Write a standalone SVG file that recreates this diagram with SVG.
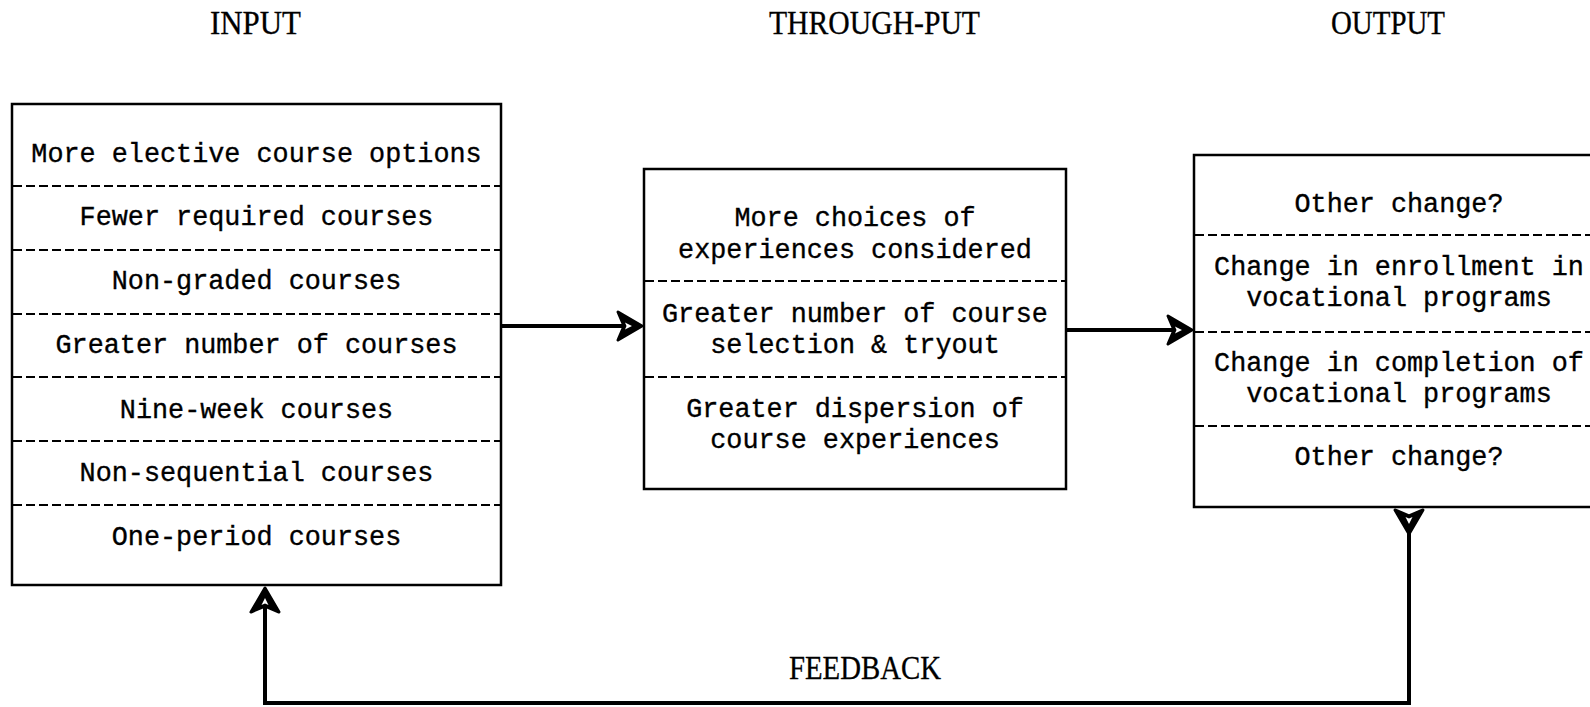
<svg xmlns="http://www.w3.org/2000/svg" width="1590" height="707" viewBox="0 0 1590 707">
<style>
.box{fill:#fff;stroke:#000;stroke-width:2.5}
.dash{stroke:#000;stroke-width:2.2;stroke-dasharray:9,4}
.t{font-family:"Liberation Mono","Courier New",monospace;font-size:26.8px;fill:#000;stroke:#000;stroke-width:0.35;text-anchor:middle}
.h{font-family:"Liberation Serif","Times New Roman",serif;font-size:33px;fill:#000;stroke:#000;stroke-width:0.3}
.conn{fill:none;stroke:#000;stroke-width:4;stroke-linejoin:miter}
.ahO{fill:#000;stroke:#000;stroke-width:3;stroke-linejoin:round}
.ahI{fill:#fff}
</style>
<defs>
<g id="head">
<path class="ahO" d="M0,0 L-24,-14 L-18,0 L-24,14 Z"/>
<path class="ahI" d="M-10,0 L-17,-3.5 L-15.5,0 L-17,3.5 Z"/>
</g>
</defs>
<rect width="1590" height="707" fill="#fff"/>

<g id="headers">
<text class="h" x="210" y="34" textLength="91" lengthAdjust="spacingAndGlyphs">INPUT</text>
<text class="h" x="769" y="34" textLength="211" lengthAdjust="spacingAndGlyphs">THROUGH-PUT</text>
<text class="h" x="1331" y="34" textLength="114" lengthAdjust="spacingAndGlyphs">OUTPUT</text>
</g>

<g id="connectors">
<path class="conn" d="M501,326 L626,326"/>
<use href="#head" transform="translate(642,326)"/>
<path class="conn" d="M1066,330 L1176,330"/>
<use href="#head" transform="translate(1192,330)"/>
<path class="conn" d="M1409,533 L1409,703 L265,703 L265,604"/>
<use href="#head" transform="translate(1409,534) rotate(90)"/>
<use href="#head" transform="translate(265,588) rotate(-90)"/>
<text class="h" x="789" y="679" textLength="152" lengthAdjust="spacingAndGlyphs">FEEDBACK</text>
</g>

<g id="input">
<rect class="box" x="12" y="104" width="489" height="481"/>
<line class="dash" x1="13" y1="186" x2="500" y2="186"/>
<line class="dash" x1="13" y1="250" x2="500" y2="250"/>
<line class="dash" x1="13" y1="314" x2="500" y2="314"/>
<line class="dash" x1="13" y1="377" x2="500" y2="377"/>
<line class="dash" x1="13" y1="441" x2="500" y2="441"/>
<line class="dash" x1="13" y1="505" x2="500" y2="505"/>
<text class="t" x="256.5" y="162">More elective course options</text>
<text class="t" x="256.5" y="225">Fewer required courses</text>
<text class="t" x="256.5" y="289">Non-graded courses</text>
<text class="t" x="256.5" y="353">Greater number of courses</text>
<text class="t" x="256.5" y="418">Nine-week courses</text>
<text class="t" x="256.5" y="481">Non-sequential courses</text>
<text class="t" x="256.5" y="545">One-period courses</text>
</g>

<g id="throughput">
<rect class="box" x="644" y="169" width="422" height="320"/>
<line class="dash" x1="645" y1="281" x2="1065" y2="281"/>
<line class="dash" x1="645" y1="377" x2="1065" y2="377"/>
<text class="t" x="855" y="226">More choices of</text>
<text class="t" x="855" y="258">experiences considered</text>
<text class="t" x="855" y="322">Greater number of course</text>
<text class="t" x="855" y="353">selection &amp; tryout</text>
<text class="t" x="855" y="417">Greater dispersion of</text>
<text class="t" x="855" y="448">course experiences</text>
</g>

<g id="output">
<rect class="box" x="1194" y="155" width="420" height="352"/>
<line class="dash" x1="1195" y1="235" x2="1590" y2="235"/>
<line class="dash" x1="1195" y1="332" x2="1590" y2="332"/>
<line class="dash" x1="1195" y1="426" x2="1590" y2="426"/>
<text class="t" x="1399" y="212">Other change?</text>
<text class="t" x="1399" y="275">Change in enrollment in</text>
<text class="t" x="1399" y="306">vocational programs</text>
<text class="t" x="1399" y="371">Change in completion of</text>
<text class="t" x="1399" y="402">vocational programs</text>
<text class="t" x="1399" y="465">Other change?</text>
</g>
</svg>
